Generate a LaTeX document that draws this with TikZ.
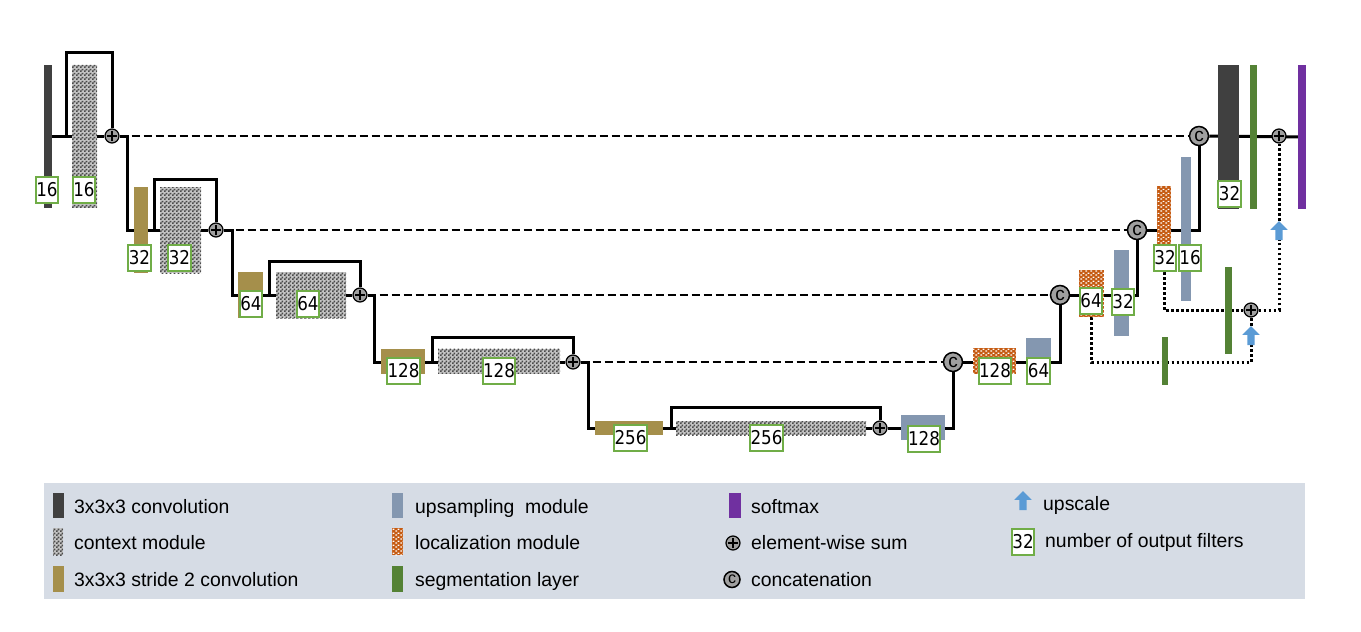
\documentclass[tikz,border=0pt]{standalone}
\usepackage{fontspec}
\setmainfont{Liberation Sans}
\newfontfamily\numfont[FakeStretch=0.88]{DejaVu Sans}
\usetikzlibrary{shapes.arrows,patterns}

\pgfdeclarelayer{background}
\pgfsetlayers{background,main}

\pgfdeclarepatternformonly{finecheck}{\pgfpointorigin}{\pgfqpoint{4pt}{4pt}}{\pgfqpoint{4pt}{4pt}}{%
  \pgfpathrectangle{\pgfpointorigin}{\pgfqpoint{2pt}{2pt}}%
  \pgfpathrectangle{\pgfqpoint{2pt}{2pt}}{\pgfqpoint{2pt}{2pt}}%
  \pgfusepath{fill}}
\pgfdeclarepatternformonly{brickdots}{\pgfpointorigin}{\pgfqpoint{5pt}{4pt}}{\pgfqpoint{5pt}{4pt}}{%
  \pgfpathrectangle{\pgfqpoint{0.5pt}{0.5pt}}{\pgfqpoint{2pt}{1.5pt}}%
  \pgfpathrectangle{\pgfqpoint{3pt}{2.5pt}}{\pgfqpoint{2pt}{1.5pt}}%
  \pgfusepath{fill}}

\definecolor{convgray}{HTML}{404040}
\definecolor{strbrown}{HTML}{A58F4B}
\definecolor{upblue}{HTML}{8497B0}
\definecolor{locorange}{HTML}{C55A11}
\definecolor{seggreen}{HTML}{548235}
\definecolor{softpurple}{HTML}{7030A0}
\definecolor{arrowblue}{HTML}{5B9BD5}
\definecolor{nfgreen}{HTML}{70AD47}
\definecolor{opgray}{HTML}{A0A0A0}
\definecolor{ctxbg}{HTML}{C4C4C4}
\definecolor{ctxdark}{HTML}{4A4A4A}
\definecolor{legendbg}{HTML}{D6DCE5}

\tikzset{
  conv/.style={rectangle, inner sep=0pt, outer sep=0pt, fill=convgray},
  ctx/.style={rectangle, inner sep=0pt, outer sep=0pt, preaction={fill=ctxbg}, pattern=finecheck, pattern color=ctxdark},
  strd/.style={rectangle, inner sep=0pt, outer sep=0pt, fill=strbrown},
  ups/.style={rectangle, inner sep=0pt, outer sep=0pt, fill=upblue},
  locm/.style={rectangle, inner sep=0pt, outer sep=0pt, preaction={fill=locorange}, pattern=brickdots, pattern color=white},
  segl/.style={rectangle, inner sep=0pt, outer sep=0pt, fill=seggreen},
  soft/.style={rectangle, inner sep=0pt, outer sep=0pt, fill=softpurple},
  nf/.style={draw=nfgreen, fill=white, line width=2pt, inner sep=0.5pt, minimum height=26, font={\numfont\fontsize{19}{19}\selectfont}},
  sumop/.style={circle, draw, line width=1.2pt, fill=opgray, minimum size=14, inner sep=0pt,
    path picture={
      \draw[line width=1.5pt] ([xshift=-5pt]path picture bounding box.center) -- ([xshift=5pt]path picture bounding box.center);
      \draw[line width=1.5pt] ([yshift=-5pt]path picture bounding box.center) -- ([yshift=5pt]path picture bounding box.center);}},
  catop/.style={circle, draw, line width=1.5pt, fill=opgray, minimum size=19, inner sep=0pt, font=\fontsize{19}{19}\selectfont},
  upsc/.style={single arrow, fill=arrowblue, shape border rotate=90, minimum height=19, inner sep=3.5pt, single arrow head extend=5pt},
  mainl/.style={line width=3pt},
  skipl/.style={line width=2.5pt, dash pattern=on 8pt off 4pt},
  dotl/.style={line width=3pt, dash pattern=on 2.5pt off 2.5pt},
  lgtxt/.style={anchor=base west, inner sep=0pt, font=\fontsize{19.4}{22}\selectfont}
}

\begin{document}
\begin{tikzpicture}[x=1pt,y=-1pt]
  \useasboundingbox (0,0) rectangle (1361,632);

  % contracting path
  \node[conv, minimum width=8, minimum height=143] (conv1) at (48,136) {};
  \node[ctx, minimum width=25, minimum height=143] (ctx1) at (84.5,136) {};
  \node[sumop] (s1) at (112,136) {};

  \node[strd, minimum width=14, minimum height=86] (str2) at (141,230) {};
  \node[ctx, minimum width=41, minimum height=86] (ctx2) at (180.5,230) {};
  \node[sumop] (s2) at (216,230) {};

  \node[strd, minimum width=25, minimum height=46] (str3) at (250.5,295) {};
  \node[ctx, minimum width=70, minimum height=46] (ctx3) at (311,295) {};
  \node[sumop] (s3) at (360,295) {};

  \node[strd, minimum width=44, minimum height=25] (str4) at (403,361) {};
  \node[ctx, minimum width=122, minimum height=25] (ctx4) at (499,361) {};
  \node[sumop] (s4) at (573,362) {};

  \node[strd, minimum width=68, minimum height=14] (str5) at (629,428) {};
  \node[ctx, minimum width=190, minimum height=14] (ctx5) at (771,428) {};
  \node[sumop] (s5) at (880,428) {};

  % expanding path
  \node[ups, minimum width=44, minimum height=25] (up5) at (923,427.5) {};
  \node[catop] (k4) at (953,362) {c};
  \node[locm, minimum width=43, minimum height=26] (loc4) at (994.5,361) {};
  \node[ups, minimum width=25, minimum height=46] (up4) at (1038.5,361) {};
  \node[catop] (k3) at (1060,295) {c};
  \node[locm, minimum width=25, minimum height=47] (loc3) at (1091.5,293.5) {};
  \node[ups, minimum width=15, minimum height=86] (up3) at (1121.5,293) {};
  \node[catop] (k2) at (1137,230) {c};
  \node[locm, minimum width=14, minimum height=86] (loc2) at (1164,229) {};
  \node[ups, minimum width=10, minimum height=144] (up2) at (1186,229) {};
  \node[catop] (k1) at (1199,136) {c};
  \node[conv, minimum width=21, minimum height=144] (conv6) at (1228.5,137) {};
  \node[segl, minimum width=7, minimum height=144] (seg1) at (1253.5,137) {};
  \node[sumop] (s6) at (1279,136) {};
  \node[soft, minimum width=8, minimum height=144] (sm) at (1302,137) {};

  \node[segl, minimum width=7, minimum height=87] (seg2) at (1228.5,310.5) {};
  \node[segl, minimum width=6, minimum height=48] (seg3) at (1165,361) {};
  \node[sumop] (s7) at (1251,310) {};
  \node[upsc] (a1) at (1279,232.5) {};
  \node[upsc] (a2) at (1251,337.5) {};

  % number of filters
  \node[nf] (n1) at (47,189.5) {16};
  \node[nf] (n2) at (84,189.5) {16};
  \node[nf] (n3) at (139.5,258) {32};
  \node[nf] (n4) at (179.5,258) {32};
  \node[nf] (n5) at (251,304) {64};
  \node[nf] (n6) at (308,304) {64};
  \node[nf] (n7) at (403.5,370.5) {128};
  \node[nf] (n8) at (499,370.5) {128};
  \node[nf] (n9) at (630.5,437.5) {256};
  \node[nf] (n10) at (766.5,438) {256};
  \node[nf] (n11) at (924,438.5) {128};
  \node[nf] (n12) at (995,370.5) {128};
  \node[nf] (n13) at (1038.5,371) {64};
  \node[nf] (n14) at (1091,300.5) {64};
  \node[nf] (n15) at (1123,301.5) {32};
  \node[nf] (n16) at (1165,258) {32};
  \node[nf] (n17) at (1190,258) {16};
  \node[nf] (n18) at (1229.5,193.5) {32};

  \coordinate (b1) at (66,136);
  \coordinate (b2) at (154,230);
  \coordinate (b3) at (269,295);
  \coordinate (b4) at (432,362);
  \coordinate (b5) at (671,428);
  \coordinate (d1) at (127,136);
  \coordinate (d2) at (232,230);
  \coordinate (d3) at (374,295);
  \coordinate (d4) at (588,362);
  \coordinate (e1) at (1251,362);

  \begin{pgfonlayer}{background}
    \draw[mainl] (conv1) -- (s1);
    \draw[mainl] (s1) -- (d1) |- (s2);
    \draw[mainl] (s2) -- (d2) |- (s3);
    \draw[mainl] (s3) -- (d3) |- (s4);
    \draw[mainl] (s4) -- (d4) |- (s5);

    \draw[mainl] (b1) -- ++(0,-84) -| (s1);
    \draw[mainl] (b2) -- ++(0,-51) -| (s2);
    \draw[mainl] (b3) -- ++(0,-34) -| (s3);
    \draw[mainl] (b4) -- ++(0,-25) -| (s4);
    \draw[mainl] (b5) -- ++(0,-21) -| (s5);

    \draw[skipl] (s1) -- (k1);
    \draw[skipl] (s2) -- (k2);
    \draw[skipl] (s3) -- (k3);
    \draw[skipl] (s4) -- (k4);

    \draw[mainl] (s5) -| (k4);
    \draw[mainl] (k4) -| (k3);
    \draw[mainl] (k3) -| (k2);
    \draw[mainl] (k2) -| (k1);
    \draw[mainl] (k1) -- (sm);

    \draw[dotl] (loc3.south) |- (e1) -- (a2.tail);
    \draw[dotl] (a2.tip) -- (s7);
    \draw[dotl] (loc2.south) |- (s7);
    \draw[dotl] (s7) -| (a1.tail);
    \draw[dotl] (a1.tip) -- (s6);
  \end{pgfonlayer}

  % legend
  \fill[legendbg] (44,483) rectangle (1305,599);
  \node[conv, minimum width=11, minimum height=25] (l1) at (58,505.5) {};
  \node[lgtxt] (t1) at (74,513) {3x3x3 convolution};
  \node[ctx, minimum width=10, minimum height=27] (l2) at (58,541.5) {};
  \node[lgtxt] (t2) at (74,549) {context module};
  \node[strd, minimum width=11, minimum height=26] (l3) at (58,579) {};
  \node[lgtxt] (t3) at (74,586) {3x3x3 stride 2 convolution};

  \node[ups, minimum width=11, minimum height=25] (l4) at (397.5,505.5) {};
  \node[lgtxt] (t4) at (415,513) {upsampling~~module};
  \node[locm, minimum width=11, minimum height=27] (l5) at (397.5,541.5) {};
  \node[lgtxt] (t5) at (415,549) {localization module};
  \node[segl, minimum width=11, minimum height=26] (l6) at (397.5,579) {};
  \node[lgtxt] (t6) at (415,586) {segmentation layer};

  \node[soft, minimum width=12, minimum height=25] (l7) at (735,505.5) {};
  \node[lgtxt] (t7) at (751,513) {softmax};
  \node[sumop] (l8) at (733,543) {};
  \node[lgtxt] (t8) at (751,549) {element-wise sum};
  \node[catop, minimum size=16, font=\fontsize{16}{16}\selectfont] (l9) at (732,579.5) {c};
  \node[lgtxt] (t9) at (751,586) {concatenation};

  \node[upsc] (l10) at (1023,502.5) {};
  \node[lgtxt] (t10) at (1043,510) {upscale};
  \node[nf] (l11) at (1023,541.5) {32};
  \node[lgtxt] (t11) at (1045,547) {number of output filters};
\end{tikzpicture}
\end{document}
